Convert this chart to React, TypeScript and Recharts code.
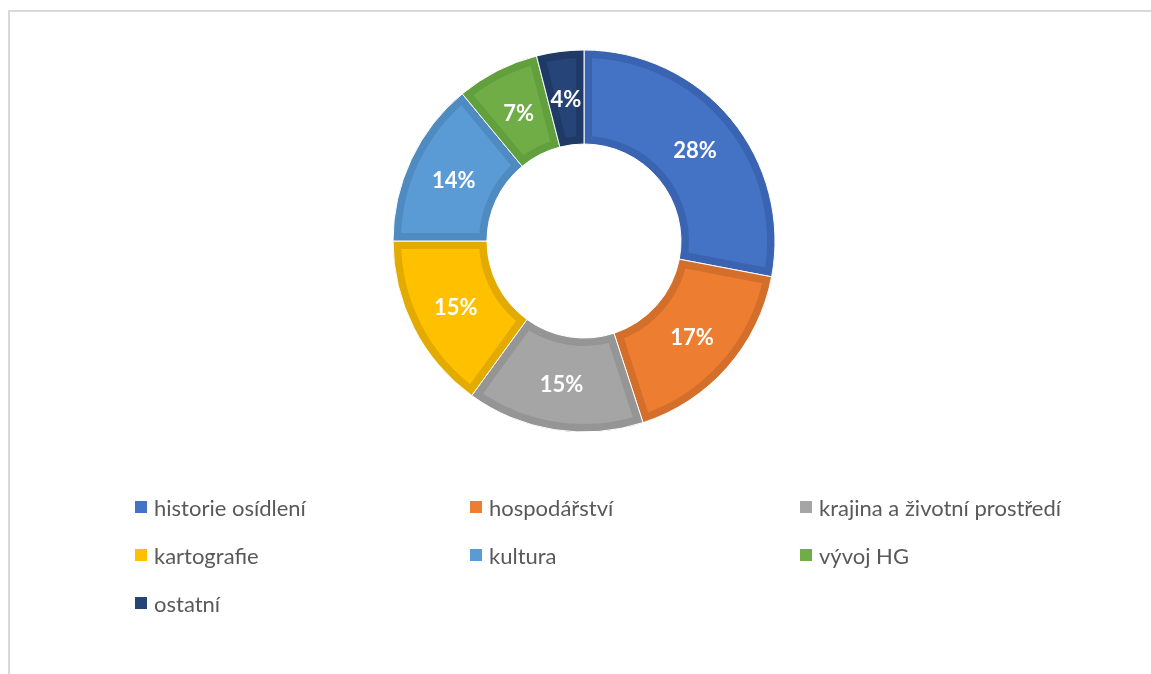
import React from "react";
import { PieChart, Pie, Cell, Legend } from "recharts";

const categories = [
  "historie osídlení",
  "hospodářství",
  "krajina a životní prostředí",
  "kartografie",
  "kultura",
  "vývoj HG",
  "ostatní",
];
const shares = [28, 17, 15, 15, 14, 7, 4];
const fills = ["#4472C4", "#ED7D31", "#A5A5A5", "#FFC000", "#5B9BD5", "#70AD47", "#264478"];
const borders = ["#3A64B2", "#D46F2B", "#959595", "#E3AA00", "#4F8AC0", "#62A03E", "#1F3A66"];

const data = categories.map((name, i) => ({ name, value: shares[i] }));

const FONT = "Lato, 'Open Sans', sans-serif";
const RAD = Math.PI / 180;

function pt(cx: number, cy: number, r: number, a: number) {
  return [cx + r * Math.cos(-a * RAD), cy + r * Math.sin(-a * RAD)];
}

function SectorShape(props: any) {
  const { cx, cy, innerRadius, outerRadius, startAngle, endAngle, fill, stroke } = props;
  const delta = endAngle - startAngle;
  const large = Math.abs(delta) > 180 ? 1 : 0;
  const sweep = startAngle > endAngle ? 1 : 0;
  const [x1, y1] = pt(cx, cy, outerRadius, startAngle);
  const [x2, y2] = pt(cx, cy, outerRadius, endAngle);
  const [x3, y3] = pt(cx, cy, innerRadius, endAngle);
  const [x4, y4] = pt(cx, cy, innerRadius, startAngle);
  const d = `M${x1},${y1} A${outerRadius},${outerRadius} 0 ${large} ${sweep} ${x2},${y2} L${x3},${y3} A${innerRadius},${innerRadius} 0 ${large} ${1 - sweep} ${x4},${y4} Z`;
  const id = `sec-clip-${Math.round(startAngle * 100)}`;
  return (
    <g>
      <defs>
        <clipPath id={id}>
          <path d={d} />
        </clipPath>
      </defs>
      <path d={d} fill={fill} stroke={stroke} strokeWidth={16} clipPath={`url(#${id})`} />
      <path d={d} fill="none" stroke="#ffffff" strokeWidth={1} />
    </g>
  );
}

function renderLabel(p: any) {
  const { cx, cy, midAngle, innerRadius, outerRadius, value } = p;
  const r = (innerRadius + outerRadius) / 2;
  const x = cx + r * Math.cos(-midAngle * RAD);
  const y = cy + r * Math.sin(-midAngle * RAD);
  return (
    <text
      x={x}
      y={y}
      fill="#ffffff"
      textAnchor="middle"
      dominantBaseline="central"
      fontFamily={FONT}
      fontWeight={700}
      fontSize={22}
    >
      {`${value}%`}
    </text>
  );
}

function LegendContent() {
  return (
    <div
      style={{
        display: "grid",
        gridTemplateColumns: "335px 330px 330px",
        rowGap: 0,
        fontFamily: FONT,
        fontSize: 22,
        color: "#595959",
      }}
    >
      {categories.map((c, i) => (
        <div key={c} style={{ display: "flex", alignItems: "center", height: 48 }}>
          <span
            style={{
              display: "inline-block",
              width: 12,
              height: 12,
              background: fills[i],
              marginRight: 7,
            }}
          />
          <span>{c}</span>
        </div>
      ))}
    </div>
  );
}

export default function App() {
  return (
    <div style={{ position: "relative", width: 1143, height: 656 }}>
      <div
        style={{
          position: "fixed",
          left: 8,
          top: 10,
          width: 1300,
          height: 800,
          borderLeft: "2px solid #D9D9D9",
          borderTop: "2px solid #D9D9D9",
          pointerEvents: "none",
        }}
      />
      <PieChart width={1143} height={656}>
        <Pie
          data={data}
          dataKey="value"
          nameKey="name"
          cx={571}
          cy={228}
          innerRadius={97}
          outerRadius={191}
          startAngle={90}
          endAngle={-270}
          isAnimationActive={false}
          label={renderLabel}
          labelLine={false}
          shape={SectorShape}
          stroke="none"
        >
          {data.map((d, i) => (
            <Cell key={d.name} fill={fills[i]} stroke={borders[i]} />
          ))}
        </Pie>
        <Legend
          content={<LegendContent />}
          wrapperStyle={{ position: "absolute", left: 127, top: 475, width: 1000 }}
        />
      </PieChart>
    </div>
  );
}
